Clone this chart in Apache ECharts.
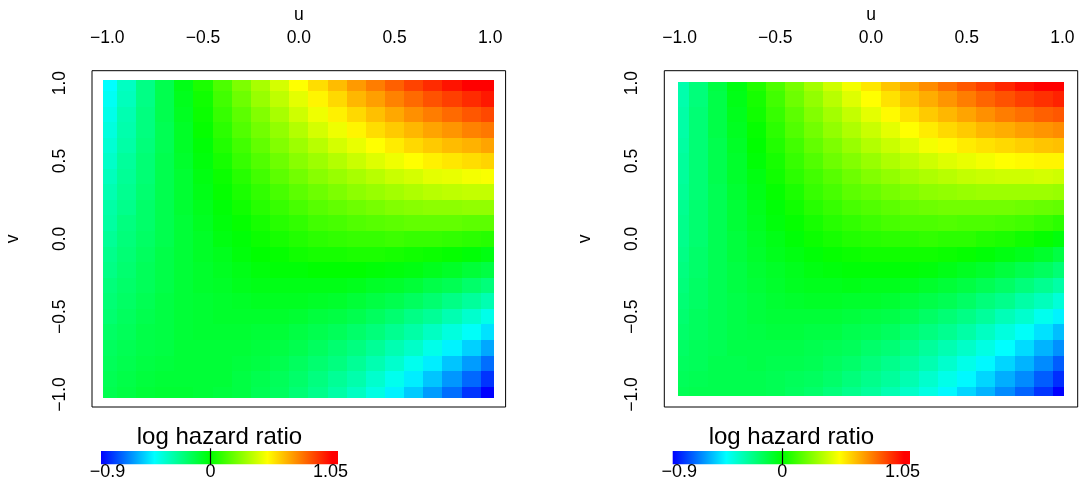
<!DOCTYPE html>
<html>
<head>
<meta charset="utf-8">
<script src="https://cdn.jsdelivr.net/npm/echarts@6/dist/echarts.min.js"></script>
<style>
html,body{margin:0;padding:0;background:#ffffff;}
#chart{width:1079px;height:485px;}
</style>
</head>
<body>
<div id="chart"></div>
<script>
// ---------------- data ----------------
const U = [-1.0,-0.9,-0.8,-0.7,-0.6,-0.5,-0.4,-0.3,-0.2,-0.1,0.0,0.1,0.2,0.3,0.4,0.5,0.6,0.7,0.8,0.9,1.0];
const V = [1.0,0.9,0.8,0.7,0.6,0.5,0.4,0.3,0.2,0.1,0.0,-0.1,-0.2,-0.3,-0.4,-0.5,-0.6,-0.7,-0.8,-0.9,-1.0];

// log hazard ratio, left panel; one row per V value (top to bottom), one column per U value
const LEFT_Z = [
[-0.46,-0.35,-0.24,-0.14,-0.04,0.05,0.14,0.23,0.31,0.39,0.47,0.54,0.61,0.68,0.74,0.80,0.86,0.91,0.96,1.01,1.05],
[-0.44,-0.34,-0.24,-0.14,-0.05,0.03,0.12,0.20,0.28,0.35,0.42,0.49,0.55,0.62,0.67,0.73,0.78,0.83,0.87,0.91,0.95],
[-0.42,-0.32,-0.23,-0.14,-0.06,0.02,0.10,0.17,0.24,0.31,0.38,0.44,0.50,0.55,0.60,0.65,0.70,0.74,0.78,0.82,0.85],
[-0.40,-0.31,-0.23,-0.15,-0.07,0.01,0.08,0.15,0.21,0.27,0.33,0.39,0.44,0.49,0.54,0.58,0.62,0.66,0.69,0.73,0.75],
[-0.38,-0.30,-0.22,-0.15,-0.07,-0.01,0.06,0.12,0.18,0.24,0.29,0.34,0.39,0.43,0.47,0.51,0.55,0.58,0.61,0.63,0.66],
[-0.36,-0.28,-0.21,-0.14,-0.08,-0.02,0.04,0.10,0.15,0.20,0.25,0.29,0.33,0.37,0.41,0.44,0.47,0.50,0.52,0.54,0.56],
[-0.34,-0.27,-0.21,-0.14,-0.09,-0.03,0.02,0.07,0.12,0.17,0.21,0.25,0.28,0.31,0.34,0.37,0.39,0.42,0.43,0.45,0.46],
[-0.32,-0.26,-0.20,-0.14,-0.09,-0.04,0.01,0.05,0.09,0.13,0.17,0.20,0.23,0.26,0.28,0.30,0.32,0.34,0.35,0.36,0.36],
[-0.30,-0.25,-0.19,-0.14,-0.09,-0.05,-0.01,0.03,0.07,0.10,0.13,0.16,0.18,0.20,0.22,0.24,0.25,0.26,0.26,0.27,0.27],
[-0.29,-0.23,-0.19,-0.14,-0.10,-0.06,-0.02,0.01,0.04,0.07,0.09,0.12,0.13,0.15,0.16,0.17,0.18,0.18,0.18,0.17,0.17],
[-0.27,-0.22,-0.18,-0.14,-0.10,-0.07,-0.03,-0.01,0.02,0.04,0.06,0.08,0.09,0.10,0.10,0.11,0.10,0.10,0.09,0.08,0.07],
[-0.25,-0.21,-0.17,-0.13,-0.10,-0.07,-0.05,-0.02,0.00,0.01,0.03,0.04,0.04,0.05,0.05,0.04,0.03,0.02,0.01,-0.01,-0.03],
[-0.24,-0.20,-0.16,-0.13,-0.10,-0.08,-0.06,-0.04,-0.02,-0.01,-0.01,0.00,0.00,0.00,-0.01,-0.02,-0.03,-0.05,-0.07,-0.10,-0.12],
[-0.22,-0.19,-0.16,-0.13,-0.10,-0.08,-0.07,-0.05,-0.04,-0.04,-0.04,-0.04,-0.04,-0.05,-0.07,-0.08,-0.10,-0.13,-0.15,-0.19,-0.22],
[-0.21,-0.18,-0.15,-0.12,-0.10,-0.09,-0.08,-0.07,-0.06,-0.06,-0.06,-0.07,-0.08,-0.10,-0.12,-0.14,-0.17,-0.20,-0.24,-0.28,-0.32],
[-0.20,-0.17,-0.14,-0.12,-0.10,-0.09,-0.08,-0.08,-0.08,-0.08,-0.09,-0.11,-0.12,-0.14,-0.17,-0.20,-0.24,-0.27,-0.32,-0.37,-0.42],
[-0.18,-0.16,-0.13,-0.12,-0.10,-0.09,-0.09,-0.09,-0.10,-0.10,-0.12,-0.14,-0.16,-0.19,-0.22,-0.26,-0.30,-0.35,-0.40,-0.45,-0.51],
[-0.17,-0.15,-0.13,-0.12,-0.10,-0.10,-0.10,-0.10,-0.11,-0.12,-0.14,-0.17,-0.20,-0.23,-0.27,-0.32,-0.36,-0.42,-0.48,-0.54,-0.61],
[-0.16,-0.14,-0.12,-0.11,-0.10,-0.10,-0.10,-0.11,-0.12,-0.14,-0.17,-0.20,-0.23,-0.27,-0.32,-0.37,-0.43,-0.49,-0.56,-0.63,-0.71],
[-0.15,-0.13,-0.11,-0.10,-0.10,-0.10,-0.10,-0.12,-0.14,-0.16,-0.19,-0.23,-0.27,-0.31,-0.37,-0.43,-0.49,-0.56,-0.64,-0.72,-0.81],
[-0.14,-0.12,-0.10,-0.09,-0.09,-0.10,-0.11,-0.12,-0.15,-0.17,-0.21,-0.25,-0.30,-0.35,-0.41,-0.48,-0.55,-0.63,-0.71,-0.81,-0.90]
];

// log hazard ratio, right panel
const RIGHT_Z = [
[-0.31,-0.22,-0.12,-0.03,0.06,0.14,0.22,0.30,0.38,0.45,0.52,0.59,0.65,0.71,0.77,0.82,0.87,0.92,0.97,1.01,1.05],
[-0.31,-0.22,-0.13,-0.04,0.04,0.12,0.20,0.27,0.34,0.41,0.47,0.53,0.59,0.64,0.69,0.74,0.79,0.83,0.87,0.90,0.93],
[-0.30,-0.21,-0.13,-0.05,0.03,0.10,0.17,0.24,0.30,0.36,0.42,0.48,0.53,0.58,0.62,0.66,0.70,0.74,0.77,0.80,0.82],
[-0.30,-0.21,-0.13,-0.06,0.01,0.08,0.15,0.21,0.27,0.32,0.37,0.42,0.47,0.51,0.55,0.58,0.62,0.64,0.67,0.69,0.71],
[-0.29,-0.21,-0.14,-0.07,0.00,0.06,0.12,0.18,0.23,0.28,0.33,0.37,0.41,0.45,0.48,0.51,0.53,0.55,0.57,0.59,0.60],
[-0.28,-0.21,-0.14,-0.08,-0.01,0.04,0.10,0.15,0.20,0.24,0.28,0.32,0.35,0.38,0.41,0.43,0.45,0.47,0.48,0.49,0.49],
[-0.28,-0.21,-0.14,-0.08,-0.03,0.03,0.08,0.12,0.16,0.20,0.24,0.27,0.30,0.32,0.34,0.36,0.37,0.38,0.38,0.39,0.38],
[-0.27,-0.21,-0.15,-0.09,-0.04,0.01,0.05,0.10,0.13,0.17,0.19,0.22,0.24,0.26,0.27,0.28,0.29,0.29,0.29,0.29,0.28],
[-0.26,-0.20,-0.15,-0.10,-0.05,-0.01,0.03,0.07,0.10,0.13,0.15,0.17,0.19,0.20,0.21,0.21,0.21,0.21,0.20,0.19,0.18],
[-0.25,-0.20,-0.15,-0.10,-0.06,-0.02,0.01,0.04,0.07,0.09,0.11,0.13,0.14,0.14,0.15,0.14,0.14,0.13,0.12,0.10,0.08],
[-0.25,-0.20,-0.15,-0.11,-0.07,-0.04,-0.01,0.02,0.04,0.06,0.07,0.08,0.08,0.09,0.08,0.08,0.06,0.05,0.03,0.01,-0.02],
[-0.24,-0.19,-0.15,-0.11,-0.08,-0.05,-0.03,-0.01,0.01,0.02,0.03,0.03,0.03,0.03,0.02,0.01,-0.01,-0.03,-0.05,-0.08,-0.12],
[-0.23,-0.19,-0.15,-0.12,-0.09,-0.07,-0.05,-0.03,-0.02,-0.01,-0.01,-0.01,-0.01,-0.02,-0.04,-0.06,-0.08,-0.11,-0.14,-0.17,-0.21],
[-0.22,-0.18,-0.15,-0.12,-0.10,-0.08,-0.06,-0.05,-0.05,-0.04,-0.05,-0.05,-0.06,-0.08,-0.10,-0.12,-0.15,-0.18,-0.22,-0.26,-0.30],
[-0.21,-0.18,-0.15,-0.13,-0.11,-0.09,-0.08,-0.07,-0.07,-0.08,-0.08,-0.09,-0.11,-0.13,-0.15,-0.18,-0.22,-0.25,-0.30,-0.34,-0.39],
[-0.20,-0.17,-0.15,-0.13,-0.11,-0.10,-0.10,-0.10,-0.10,-0.11,-0.12,-0.13,-0.15,-0.18,-0.21,-0.24,-0.28,-0.33,-0.37,-0.43,-0.48],
[-0.19,-0.17,-0.15,-0.13,-0.12,-0.11,-0.11,-0.12,-0.12,-0.14,-0.15,-0.17,-0.20,-0.23,-0.26,-0.30,-0.35,-0.40,-0.45,-0.51,-0.57],
[-0.18,-0.16,-0.15,-0.13,-0.13,-0.13,-0.13,-0.14,-0.15,-0.16,-0.19,-0.21,-0.24,-0.28,-0.32,-0.36,-0.41,-0.46,-0.52,-0.59,-0.65],
[-0.17,-0.16,-0.14,-0.14,-0.13,-0.14,-0.14,-0.15,-0.17,-0.19,-0.22,-0.25,-0.28,-0.32,-0.37,-0.42,-0.47,-0.53,-0.59,-0.66,-0.74],
[-0.16,-0.15,-0.14,-0.14,-0.14,-0.15,-0.16,-0.17,-0.19,-0.22,-0.25,-0.28,-0.32,-0.37,-0.42,-0.47,-0.53,-0.60,-0.66,-0.74,-0.82],
[-0.15,-0.14,-0.14,-0.14,-0.14,-0.15,-0.17,-0.19,-0.22,-0.25,-0.28,-0.32,-0.36,-0.41,-0.47,-0.53,-0.59,-0.66,-0.73,-0.81,-0.90]
];

const AXIS_TICKS = [-1.0, -0.5, 0.0, 0.5, 1.0];
const LEGEND_TICKS = [-0.9, 0, 1.05];
const LEGEND_TITLE = 'log hazard ratio';
const X_NAME = 'u';
const Y_NAME = 'v';

// colour scale (value stops and their colours)
const SCALE_VALUES = [-0.9, -0.46, 0, 0.47, 1.0, 1.05];
const SCALE_COLORS = ['#0000ff', '#00ffff', '#00ff00', '#ffff00', '#ff0000', '#ff0000'];

// ---------------- helpers ----------------
const FONT = '"Liberation Sans", Arial, Helvetica, sans-serif';
function hexRgb(h) { return [parseInt(h.substr(1,2),16), parseInt(h.substr(3,2),16), parseInt(h.substr(5,2),16)]; }
function scaleColor(z) {
  const vs = SCALE_VALUES, cs = SCALE_COLORS.map(hexRgb);
  if (z <= vs[0]) return SCALE_COLORS[0];
  for (let i = 1; i < vs.length; i++) {
    if (z <= vs[i]) {
      const t = (z - vs[i-1]) / (vs[i] - vs[i-1]);
      const c = cs[i-1].map((a, k) => Math.round(a + (cs[i][k] - a) * t));
      return 'rgb(' + c.join(',') + ')';
    }
  }
  return SCALE_COLORS[SCALE_COLORS.length - 1];
}
const ZMIN = SCALE_VALUES[0], ZMAX = SCALE_VALUES[SCALE_VALUES.length - 1];
const PALETTE = [];
for (let i = 0; i <= 195; i++) PALETTE.push(scaleColor(ZMIN + (ZMAX - ZMIN) * i / 195));

function toItems(Z) {
  const out = [];
  V.forEach((v, r) => U.forEach((u, c) => out.push([u, v, Z[r][c]])));
  return out;
}
const HALF_U = (U[1] - U[0]) / 2;
const HALF_V = (V[0] - V[1]) / 2;
function heatRender(ext) {
  return function (params, api) {
    const u = api.value(0), v = api.value(1);
    const a = api.coord([Math.max(u - HALF_U, -ext), Math.min(v + HALF_V, ext)]);
    const b = api.coord([Math.min(u + HALF_U, ext), Math.max(v - HALF_V, -ext)]);
    const x0 = Math.round(a[0]), y0 = Math.round(a[1]);
    const x1 = Math.round(b[0]), y1 = Math.round(b[1]);
    return { type: 'rect', shape: { x: x0, y: y0, width: x1 - x0, height: y1 - y0 },
             style: { fill: api.visual('color') } };
  };
}
function barRender(params, api) {
  const a = api.coord([api.value(0), api.value(1)]);
  const b = api.coord([api.value(2), api.value(3)]);
  const stops = SCALE_VALUES.map((v, i) => ({ offset: (v - ZMIN) / (ZMAX - ZMIN), color: SCALE_COLORS[i] }));
  return { type: 'rect', shape: { x: a[0], y: b[1], width: b[0] - a[0], height: a[1] - b[1] },
           style: { fill: new echarts.graphic.LinearGradient(0, 0, 1, 0, stops) } };
}
function tickFmt(v) { return v.toFixed(1).replace('-', '\u2212'); }
function legendFmt(v) {
  const s = String(v).replace('-', '\u2212');
  if (v === LEGEND_TICKS[0]) return '{lo|' + s + '}';
  if (v === LEGEND_TICKS[LEGEND_TICKS.length - 1]) return '{hi|' + s + '}';
  return '{md|' + s + '}';
}

const FS = 17.5;
const txt = { fontSize: FS, color: '#000', fontFamily: FONT };

function mainX(grid) {
  return {
    gridIndex: grid, type: 'value', position: 'top', min: -1.08, max: 1.08,
    name: X_NAME, nameLocation: 'middle', nameGap: 42, nameTextStyle: txt,
    axisLine: { show: false }, splitLine: { show: false },
    axisTick: { show: true, customValues: AXIS_TICKS, length: 10, lineStyle: { color: '#000', width: 1 } },
    axisLabel: { customValues: AXIS_TICKS, formatter: tickFmt, margin: 24, fontSize: FS, color: '#000', fontFamily: FONT }
  };
}
function mainY(grid) {
  return {
    gridIndex: grid, type: 'value', position: 'left', min: -1.08, max: 1.08,
    name: Y_NAME, nameLocation: 'middle', nameGap: 70, nameTextStyle: txt,
    axisLine: { show: false }, splitLine: { show: false },
    axisTick: { show: true, customValues: AXIS_TICKS, length: 10, lineStyle: { color: '#000', width: 1 } },
    axisLabel: { customValues: AXIS_TICKS, formatter: tickFmt, rotate: 90, margin: 23, fontSize: FS, color: '#000', fontFamily: FONT }
  };
}
const richStyle = {
  lo: { fontSize: 18, color: '#000', fontFamily: FONT, padding: [0, 0, 0, 13] },
  hi: { fontSize: 18, color: '#000', fontFamily: FONT, padding: [0, 15, 0, 0] },
  md: { fontSize: 18, color: '#000', fontFamily: FONT }
};
function legX(grid) {
  return {
    gridIndex: grid, type: 'value', position: 'bottom', min: ZMIN, max: ZMAX, z: 10,
    axisLine: { show: false }, splitLine: { show: false },
    axisTick: { show: true, inside: true, customValues: [0], length: 16, lineStyle: { color: '#000', width: 1.2 } },
    axisLabel: { customValues: LEGEND_TICKS, formatter: legendFmt, rich: richStyle, margin: -1, fontSize: 18, color: '#000' }
  };
}
function legTitle(grid) {
  return {
    gridIndex: grid, type: 'value', position: 'top', min: ZMIN, max: ZMAX,
    name: LEGEND_TITLE, nameLocation: 'middle', nameGap: 2,
    nameTextStyle: { fontSize: 24, color: '#000', fontFamily: FONT },
    axisLine: { show: false }, axisTick: { show: false }, axisLabel: { show: false }, splitLine: { show: false }
  };
}
function legY(grid) {
  return { gridIndex: grid, type: 'value', min: 0, max: 1, show: false };
}

const option = {
  animation: false,
  backgroundColor: '#ffffff',
  grid: [
    { left: 92, top: 70.7, width: 413.6, height: 336.3, show: true, borderColor: '#000', borderWidth: 1, backgroundColor: 'transparent' },
    { left: 664.3, top: 70.7, width: 413.4, height: 336.3, show: true, borderColor: '#000', borderWidth: 1, backgroundColor: 'transparent' },
    { left: 101, top: 451, width: 237, height: 13.3 },
    { left: 672.7, top: 451, width: 237.3, height: 13.3 }
  ],
  xAxis: [mainX(0), mainX(1), legX(2), legX(3), legTitle(2), legTitle(3)],
  yAxis: [mainY(0), mainY(1), legY(2), legY(3)],
  visualMap: {
    type: 'continuous', show: false, min: ZMIN, max: ZMAX, dimension: 2,
    seriesIndex: [0, 1], inRange: { color: PALETTE }
  },
  series: [
    { type: 'custom', xAxisIndex: 0, yAxisIndex: 0, data: toItems(LEFT_Z), encode: { x: 0, y: 1 }, renderItem: heatRender(1.02), silent: true },
    { type: 'custom', xAxisIndex: 1, yAxisIndex: 1, data: toItems(RIGHT_Z), encode: { x: 0, y: 1 }, renderItem: heatRender(1.01), silent: true },
    { type: 'custom', xAxisIndex: 2, yAxisIndex: 2, data: [[ZMIN, 0, ZMAX, 1]], encode: { x: [0, 2], y: [1, 3] }, renderItem: barRender, silent: true, z: 1 },
    { type: 'custom', xAxisIndex: 3, yAxisIndex: 3, data: [[ZMIN, 0, ZMAX, 1]], encode: { x: [0, 2], y: [1, 3] }, renderItem: barRender, silent: true, z: 1 }
  ]
};
const chart = echarts.init(document.getElementById('chart'), null, { renderer: 'canvas' });
chart.setOption(option);
</script>
</body>
</html>
